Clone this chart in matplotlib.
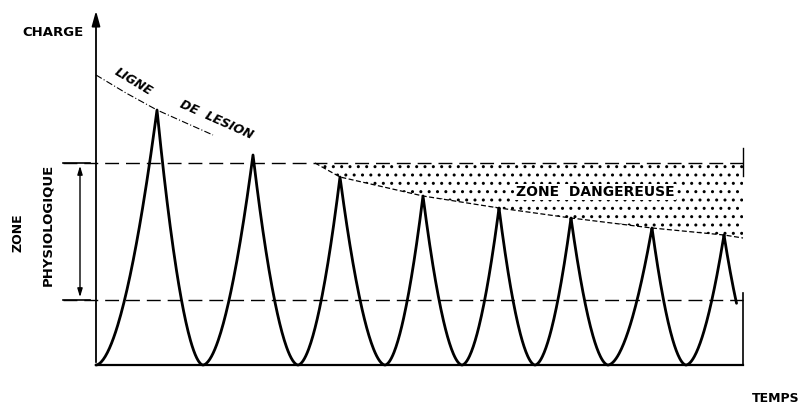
import numpy as np
import matplotlib.pyplot as plt

# schematic values (time / load in arbitrary units)
peak_t = [61, 157, 244, 327, 403, 475, 556, 628]
peak_q = [255, 210, 188, 169, 157, 147, 137, 130]
trough_t = [0, 107, 202, 289, 366, 439, 512, 590, 665]
end_t = 641

zone_high = 202
zone_low = 65

lesion_t = [0, 30, 61, 90, 117]
lesion_q = [290, 272, 255, 242, 230]

danger_t = [219, 244, 327, 403, 475, 556, 628, 647]
danger_q = [202, 188, 169, 157, 147, 137, 130, 127]

t_max = 647


def arch(t0, t1, q0, q1, p=1.8):
    # one half of a loading cycle: rounded at the trough, sharp at the peak
    t = np.linspace(t0, t1, 60)
    if q0 == 0:
        q = q1 * ((t - t0) / (t1 - t0)) ** p
    else:
        q = q0 * ((t1 - t) / (t1 - t0)) ** p
    return t, q


ts, qs = [], []
for i in range(len(peak_t)):
    t, q = arch(trough_t[i], peak_t[i], 0, peak_q[i])
    ts.append(t); qs.append(q)
    t, q = arch(peak_t[i], trough_t[i + 1], peak_q[i], 0)
    ts.append(t); qs.append(q)
t_all = np.concatenate(ts)
q_all = np.concatenate(qs)
keep = t_all <= end_t
t_all, q_all = t_all[keep], q_all[keep]

fig = plt.figure(figsize=(8.05, 4.13), dpi=100)
ax = fig.add_axes([0, 0, 1, 1])
ax.set_xlim(-96, 805 - 96)
ax.set_ylim(365 - 413, 365)
ax.axis('off')

# axes
ax.annotate('', xy=(0, 357), xytext=(0, 0),
            arrowprops=dict(arrowstyle='-|>,head_length=0.9,head_width=0.25', lw=1.3, color='black'))
ax.plot([0, t_max], [0, 0], color='black', lw=1.6)
ax.plot([t_max, t_max], [0, 72], color='black', lw=1.2)
ax.plot([t_max, t_max], [189, 217], color='black', lw=1.0)

# physiological zone limits
for q in [zone_high, zone_low]:
    ax.plot([-33, t_max], [q, q], color='black', lw=1.0, dashes=(10, 5))
    ax.plot([-33, -6], [q, q], color='black', lw=1.2)
ax.annotate('', xy=(-16, zone_high), xytext=(-16, zone_low),
            arrowprops=dict(arrowstyle='<|-|>,head_length=0.5,head_width=0.15', lw=1.0, color='black'))

# danger zone
ax.fill_between(danger_t, danger_q, zone_high, facecolor='none', edgecolor='black',
                hatch='..', linewidth=0)
ax.plot(danger_t, danger_q, color='black', lw=0.9, dashes=(4, 2))

# lesion line
ax.plot(lesion_t, lesion_q, color='black', lw=0.8, dashes=(6, 2, 1, 2))

# load cycles
ax.plot(t_all, q_all, color='black', lw=2.0, solid_capstyle='round')

# labels
bold = dict(fontweight='bold', color='black', family='DejaVu Sans')
ax.text(-43, 333, 'CHARGE', fontsize=9.5, ha='center', va='center', **bold)
ax.text(680, -33, 'TEMPS', fontsize=9, ha='center', va='center', **bold)
ax.text(-78, 132, 'ZONE', fontsize=9, rotation=90, ha='center', va='center', **bold)
ax.text(-48, 140, 'PHYSIOLOGIQUE', fontsize=9.5, rotation=90, ha='center', va='center', **bold)
ax.text(499, 173, 'ZONE  DANGEREUSE', fontsize=10, ha='center', va='center',
        bbox=dict(facecolor='white', edgecolor='none', pad=1), **bold)
ax.text(37, 283, 'LIGNE', fontsize=9, rotation=-31, ha='center', va='center',
        style='italic', **bold)
ax.text(120, 245, 'DE  LESION', fontsize=9, rotation=-24, ha='center', va='center',
        style='italic', **bold)

fig.savefig('out.png', dpi=100)
